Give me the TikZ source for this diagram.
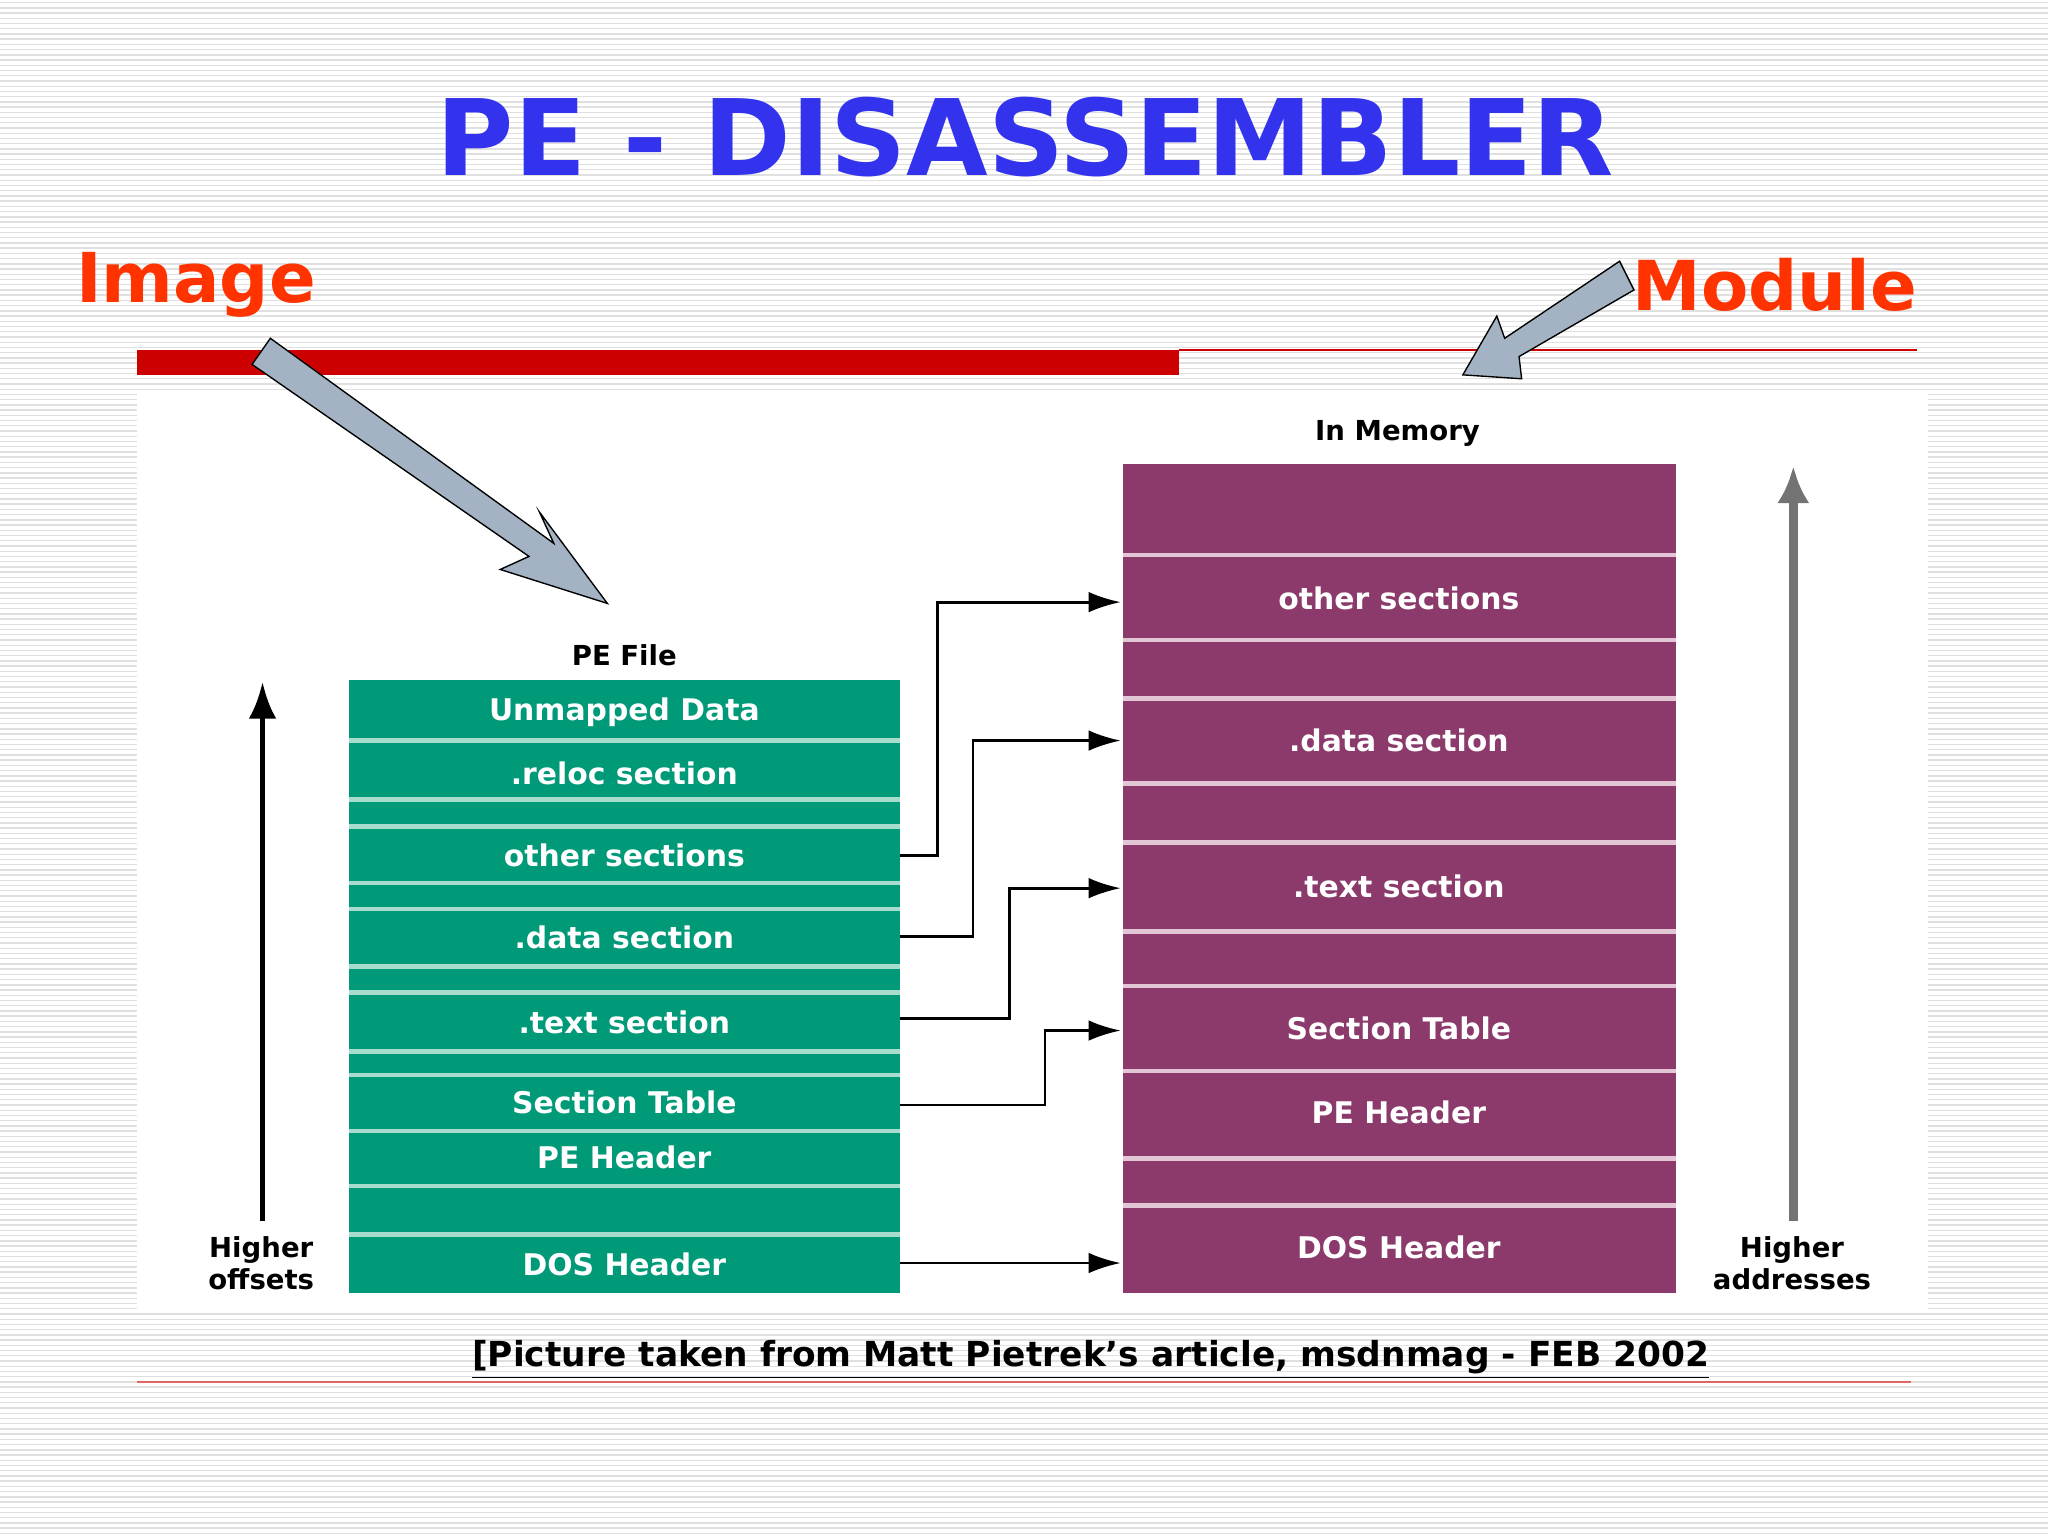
\documentclass[tikz,border=0pt]{standalone}
\usepackage{fontspec}
\setmainfont{DejaVu Sans}
\usetikzlibrary{arrows.meta}
\definecolor{peblue}{HTML}{3333EE}
\definecolor{peorange}{HTML}{FF3300}
\definecolor{pered}{HTML}{CC0000}
\definecolor{pegreen}{HTML}{009A78}
\definecolor{pepurple}{HTML}{8B3A6B}
\definecolor{gsep}{HTML}{A8DCCD}
\definecolor{psep}{HTML}{E2C6D6}
\definecolor{garrow}{HTML}{A3B3C3}
\tikzset{
 boxtxt/.style={text=white,font=\bfseries\fontsize{13}{13}\selectfont,anchor=center},
 lbl/.style={font=\bfseries\fontsize{12}{14}\selectfont,align=center},
 conn/.style={draw=black,line width=1.2pt,-{Latex[length=14pt,width=9pt]}},
 fat/.style={fill=garrow,draw=black,line width=0.6pt}
}
\begin{document}
\begin{tikzpicture}[x=0.02cm,y=-0.02cm]
\useasboundingbox (0,0) rectangle (1568,1176);
\fill[white] (0,0) rectangle (1568,1176);
\foreach \y in {2,6,...,1176} \draw[black!12,line width=0.6pt] (0,\y) -- (1568,\y);
% title
\node[text=peblue,font=\bfseries\fontsize{46}{50}\selectfont] (title) at (785,105) {PE - DISASSEMBLER};
\node[text=peorange,font=\bfseries\fontsize{30}{32}\selectfont,anchor=west] (img) at (52,218) {Image};
\node[text=peorange,font=\bfseries\fontsize{30}{32}\selectfont,anchor=east] (mod) at (1474,218) {Module};
\fill[pered] (105,268) rectangle (903,287);
\draw[pered,line width=0.8pt] (903,268) -- (1468,268);
% panel
\fill[white] (105,300) rectangle (1476,1005);
\draw[pered!60,line width=0.6pt] (105,1058) -- (1463,1058);
\node[font=\bfseries\fontsize{15}{16}\selectfont] (cap) at (835,1041) {\underline{[Picture taken from Matt Pietrek’s article, msdnmag - FEB 2002}};
% green block
\fill[pegreen] (267,521) rectangle (689,990);
\foreach \y in {567,612,633,676,696,740,760,805,823,866,908,945}
  \draw[gsep,line width=2pt] (267,\y) -- (689,\y);
\node[lbl] (pefile) at (478,502) {PE File};
\node[boxtxt] (g1) at (478,545) {Unmapped Data};
\node[boxtxt] (g2) at (478,592) {.reloc section};
\node[boxtxt] (g3) at (478,655) {other sections};
\node[boxtxt] (g4) at (478,718) {.data section};
\node[boxtxt] (g5) at (478,783) {.text section};
\node[boxtxt] (g6) at (478,844) {Section Table};
\node[boxtxt] (g7) at (478,886) {PE Header};
\node[boxtxt] (g8) at (478,968) {DOS Header};
% purple block
\fill[pepurple] (860,355) rectangle (1283,990);
\foreach \y in {425,490,535,600,645,713,755,820,887,923}
  \draw[psep,line width=2pt] (860,\y) -- (1283,\y);
\node[lbl] (mem) at (1070,332) {In Memory};
\node[boxtxt] (p1) at (1071,458) {other sections};
\node[boxtxt] (p2) at (1071,567) {.data section};
\node[boxtxt] (p3) at (1071,679) {.text section};
\node[boxtxt] (p4) at (1071,787) {Section Table};
\node[boxtxt] (p5) at (1071,852) {PE Header};
\node[boxtxt] (p6) at (1071,955) {DOS Header};
% connector endpoints
\coordinate (a1) at (689,655); \coordinate (b1) at (858,461);
\coordinate (a2) at (689,717); \coordinate (b2) at (858,567);
\coordinate (a3) at (689,780); \coordinate (b3) at (858,680);
\coordinate (a4) at (689,846); \coordinate (b4) at (858,789);
\coordinate (a5) at (689,967); \coordinate (b5) at (858,967);
\draw[conn] (a1) -- (718,655) -- (718,461) -- (b1);
\draw[conn] (a2) -- (745,717) -- (745,567) -- (b2);
\draw[conn] (a3) -- (773,780) -- (773,680) -- (b3);
\draw[conn] (a4) -- (800,846) -- (800,789) -- (b4);
\draw[conn] (a5) -- (b5);
% side arrows
\coordinate (l0) at (201,935); \coordinate (l1) at (201,522);
\draw[line width=2.5pt,-{Latex[length=16pt,width=12pt]}] (l0) -- (l1);
\node[lbl] (ho) at (200,967) {Higher\\offsets};
\coordinate (r0) at (1373,935); \coordinate (r1) at (1373,357);
\draw[black!55,line width=4pt,-{Latex[length=16pt,width=14pt]}] (r0) -- (r1);
\node[lbl] (ha) at (1372,967) {Higher\\addresses};
% fat arrows
\draw[fat] (193,279) -- (207,259) -- (424,416) -- (413,392) -- (465,462) -- (383,436) -- (405,426) -- cycle;
\draw[fat] (1240,200) -- (1251,222) -- (1163,273) -- (1165,290) -- (1120,287) -- (1146,242) -- (1152,259) -- cycle;
\end{tikzpicture}
\end{document}
